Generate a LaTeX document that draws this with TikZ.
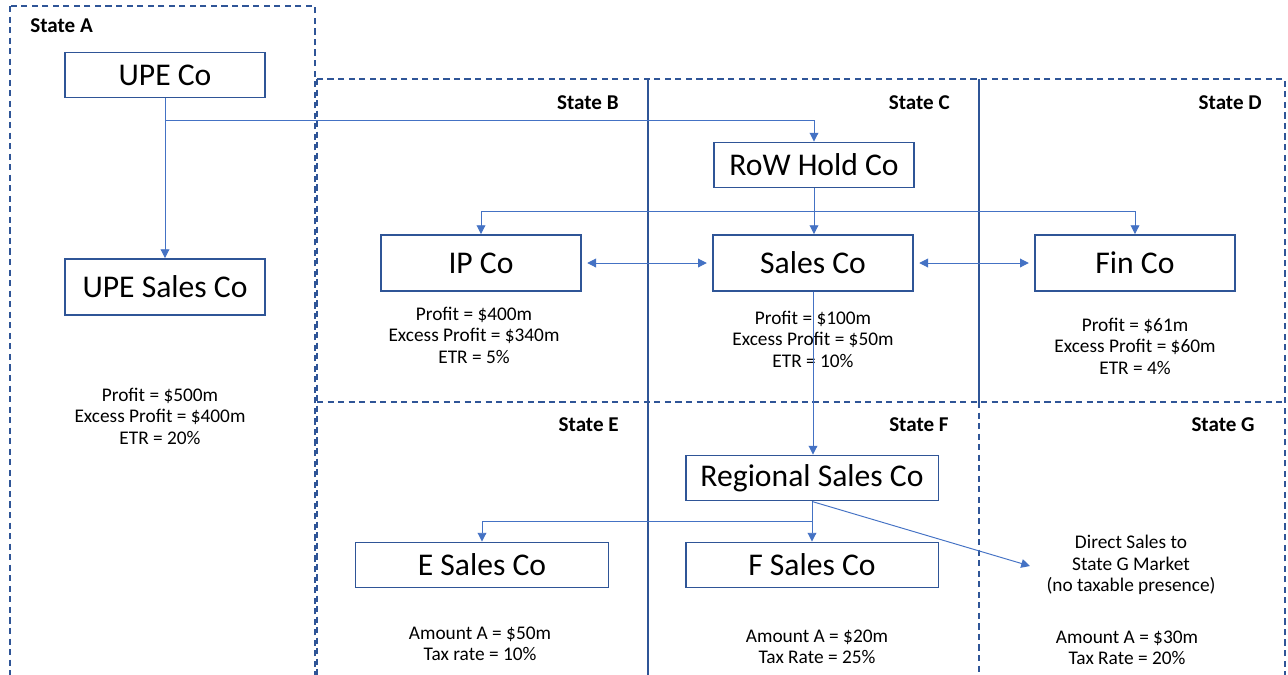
\documentclass[tikz,border=0pt]{standalone}
\usepackage{fontspec}
\setmainfont{Carlito}
\usetikzlibrary{arrows.meta}
\definecolor{frame}{HTML}{2F5597}
\definecolor{link}{HTML}{4472C4}
\tikzstyle{entity}=[draw=frame, line width=1.1pt, minimum width=4cm, minimum height=0.9cm, inner sep=0pt, font=\fontsize{18}{21}\selectfont]
\tikzstyle{tall}=[minimum height=1.12cm]
\tikzstyle{wide}=[minimum width=5.06cm]
\tikzstyle{info}=[align=center, inner sep=1pt, font=\fontsize{11}{12.2}\selectfont]
\tikzstyle{statelbl}=[anchor=east, inner sep=0pt, font=\fontsize{12}{14}\selectfont\bfseries]
\tikzstyle{conn}=[draw=link, line width=0.55pt, -{Triangle[length=5pt,width=5pt]}]
\tikzstyle{border}=[draw=frame, line width=0.9pt, dash pattern=on 3.5pt off 2.5pt]

\begin{document}
\begin{tikzpicture}[x=0.02cm, y=-0.02cm]
    \useasboundingbox (0,0) rectangle (1288,674);
    \clip (0,0) rectangle (1288,674);

    % state borders
    \draw[border] (10,6) rectangle (315,690);
    \draw[border] (317,79) rectangle (1285,690);
    \draw[border] (317,402) -- (1285,402);
    \draw[frame, line width=0.9pt] (648,79) -- (648,690);
    \draw[frame, line width=0.9pt] (979,79) -- (979,402);
    \draw[border] (979,402) -- (979,690);

    \node[statelbl, anchor=west] (sa) at (30,26) {State A};
    \node[statelbl] (sb) at (619,103) {State B};
    \node[statelbl] (sc) at (950,103) {State C};
    \node[statelbl] (sd) at (1262,103) {State D};
    \node[statelbl] (se) at (619,425) {State E};
    \node[statelbl] (sf) at (949,425) {State F};
    \node[statelbl] (sg) at (1255,425) {State G};

    % entities
    \node[entity] (upe) at (165,75) {UPE Co};
    \node[entity, tall] (upes) at (165,287) {UPE Sales Co};
    \node[entity] (hold) at (814,165) {RoW Hold Co};
    \node[entity, tall] (ip) at (481,263) {IP Co};
    \node[entity, tall] (sales) at (813,263) {Sales Co};
    \node[entity, tall] (fin) at (1135,263) {Fin Co};
    \node[entity, wide] (reg) at (812,478) {Regional Sales Co};
    \node[entity, wide] (esales) at (482,565) {E Sales Co};
    \node[entity, wide] (fsales) at (812,565) {F Sales Co};

    % figures
    \node[info] (upeinfo) at (160,416) {Profit = \$500m\\Excess Profit = \$400m\\ETR = 20\%};
    \node[info] (ipinfo) at (474,335) {Profit = \$400m\\Excess Profit = \$340m\\ETR = 5\%};
    \node[info] (salesinfo) at (813,339) {Profit = \$100m\\Excess Profit = \$50m\\ETR = 10\%};
    \node[info] (fininfo) at (1135,346) {Profit = \$61m\\Excess Profit = \$60m\\ETR = 4\%};
    \node[info] (einfo) at (480,644) {Amount A = \$50m\\Tax rate = 10\%};
    \node[info] (finfo) at (817,647) {Amount A = \$20m\\Tax Rate = 25\%};
    \node[info] (ginfo) at (1127,648) {Amount A = \$30m\\Tax Rate = 20\%};
    \node[info] (gmarket) at (1131,565) {Direct Sales to\\State G Market\\(no taxable presence)};

    % ownership and flows
    \coordinate (upesplit) at (165,120);
    \coordinate (holdsplit) at (814,211);
    \coordinate (regsplit) at (812,521);
    \coordinate (gend) at (1030,566);
    \draw[conn] (upe.south) -- (upes.north);
    \draw[conn] (upesplit) -| (hold.north);
    \draw[conn] (hold.south) -- (hold.south |- sales.north);
    \draw[conn] (holdsplit) -| (ip.north);
    \draw[conn] (holdsplit) -| (fin.north);
    \draw[conn, {Triangle[length=5pt,width=5pt]}-{Triangle[length=5pt,width=5pt]}, shorten <=3pt, shorten >=3pt] (ip.east) -- (sales.west);
    \draw[conn, {Triangle[length=5pt,width=5pt]}-{Triangle[length=5pt,width=5pt]}, shorten <=3pt, shorten >=3pt] (sales.east) -- (fin.west);
    \draw[conn] (sales.south) -- (sales.south |- reg.north);
    \draw[conn] (reg.south) -- (fsales.north);
    \draw[conn] (regsplit) -| (esales.north);
    \draw[conn] (reg.south) -- (gend);

\end{tikzpicture}
\end{document}
